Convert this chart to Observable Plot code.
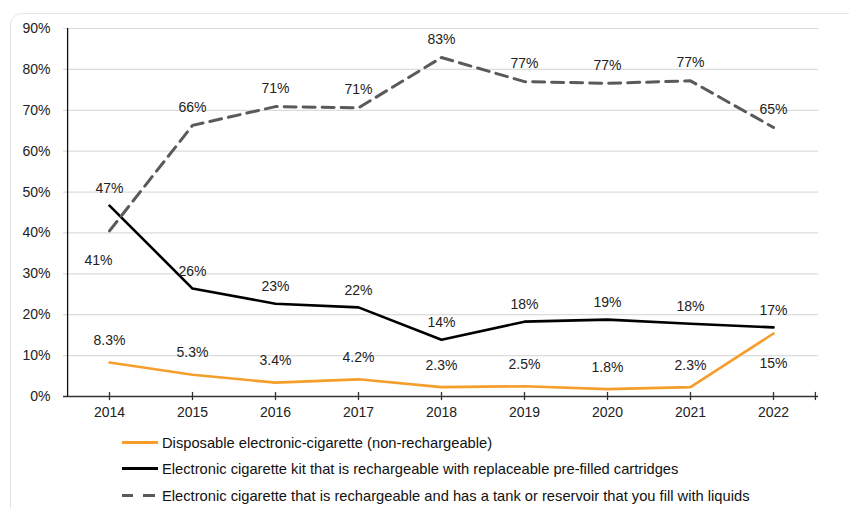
<!DOCTYPE html>
<html>
<head>
<meta charset="utf-8">
<script src="https://cdn.jsdelivr.net/npm/d3@7"></script>
<script src="https://cdn.jsdelivr.net/npm/@observablehq/plot@0.6"></script>
<style>
  html, body { margin: 0; padding: 0; background: #fff; }
  #wrap { position: relative; width: 849px; height: 508px; overflow: hidden; font-family: "Liberation Sans", Arial, sans-serif; }
  #box { position: absolute; left: 10px; top: 13px; width: 880px; height: 520px; border: 1.5px solid #e3e3e3; border-radius: 12px; box-sizing: border-box; }
  #chart { position: absolute; left: 0; top: 0; }
  #legend { position: absolute; left: 122px; top: 429px; font-family: "Liberation Sans", Arial, sans-serif; font-size: 15px; color: #111; }
  .item { display: flex; align-items: center; height: 26.5px; white-space: nowrap; }
  .sw { width: 36px; height: 0; margin-right: 4px; flex: none; }
  .lt { display: inline-block; transform: scaleX(0.98); transform-origin: left center; }
</style>
</head>
<body>
<div id="wrap">
  <div id="box"></div>
  <div id="chart"></div>
  <div id="legend"></div>
</div>
<script>
const years = ["2014","2015","2016","2017","2018","2019","2020","2021","2022"];
const disposable = [8.3, 5.3, 3.4, 4.2, 2.3, 2.5, 1.8, 2.3, 15.4];
const disposableLabels = ["8.3%","5.3%","3.4%","4.2%","2.3%","2.5%","1.8%","2.3%","15%"];
const cartridge = [46.7, 26.4, 22.7, 21.8, 13.9, 18.3, 18.8, 17.8, 16.9];
const cartridgeLabels = ["47%","26%","23%","22%","14%","18%","19%","18%","17%"];
const tank = [40.5, 66.3, 70.9, 70.6, 82.9, 77.0, 76.6, 77.2, 65.8];
const tankLabels = ["41%","66%","71%","71%","83%","77%","77%","77%","65%"];
const yTicks = [0, 10, 20, 30, 40, 50, 60, 70, 80, 90];
const seriesNames = [
  "Disposable electronic-cigarette (non-rechargeable)",
  "Electronic cigarette kit that is rechargeable with replaceable pre-filled cartridges",
  "Electronic cigarette that is rechargeable and has a tank or reservoir that you fill with liquids"
];

const mk = (vals, labs) => years.map((y, i) => ({year: y, v: vals[i], label: labs[i], i}));
const dDisp = mk(disposable, disposableLabels);
const dCart = mk(cartridge, cartridgeLabels);
const dTank = mk(tank, tankLabels);

const orange = "#f59e2c";
const gray = "#5a5a5a";
const txt = {fontSize: 14, fill: "#222", fontFamily: "Liberation Sans, Arial, sans-serif"};

const chart = Plot.plot({
  width: 849,
  height: 430,
  marginLeft: 63,
  marginRight: 31,
  marginTop: 28,
  marginBottom: 34,
  style: {fontFamily: "Liberation Sans, Arial, sans-serif", fontSize: "14px", color: "#222", background: "transparent"},
  x: {type: "point", domain: years, padding: 0.5, label: null},
  y: {domain: [0, 90], label: null},
  marks: [
    Plot.ruleY(yTicks.slice(1), {stroke: "#dcdcdc", strokeWidth: 1.2}),
    Plot.axisY({ticks: yTicks, tickSize: 0, tickPadding: 13, tickFormat: d => d + "%", fontSize: 14, label: null}),
    Plot.axisX({tickSize: 0, tickPadding: 11, fontSize: 14, label: null}),
    Plot.ruleX([years[0]], {x: d => d, y1: 0, y2: 90, dx: -41.9, stroke: "#111", strokeWidth: 1.3}),
    Plot.ruleY([0], {stroke: "#333", strokeWidth: 1.3}),
    Plot.ruleX(years, {x: d => d, y1: -1, y2: 1, stroke: "#333", strokeWidth: 1.3}),
    Plot.ruleX([years[years.length - 1]], {x: d => d, y1: -1, y2: 1, dx: 41.9, stroke: "#333", strokeWidth: 1.3}),
    Plot.line(dDisp, {x: "year", y: "v", stroke: orange, strokeWidth: 2.6}),
    Plot.line(dCart, {x: "year", y: "v", stroke: "#000", strokeWidth: 2.6}),
    Plot.line(dTank, {x: "year", y: "v", stroke: gray, strokeWidth: 3, strokeDasharray: "12,7"}),
    Plot.text(dTank.filter(d => d.i > 0), {x: "year", y: "v", text: "label", dy: -18, ...txt}),
    Plot.text(dTank.filter(d => d.i === 0), {x: "year", y: "v", text: "label", dy: 30, dx: -11, ...txt}),
    Plot.text(dCart, {x: "year", y: "v", text: "label", dy: -17, ...txt}),
    Plot.text(dDisp.filter(d => d.i < 8), {x: "year", y: "v", text: "label", dy: -22, ...txt}),
    Plot.text(dDisp.filter(d => d.i === 8), {x: "year", y: "v", text: "label", dy: 30, ...txt})
  ]
});
document.getElementById("chart").appendChild(chart);

const legend = document.getElementById("legend");
const styles = [
  `border-top: 3px solid ${orange};`,
  `border-top: 3px solid #000;`,
  ""
];
seriesNames.forEach((name, k) => {
  const row = document.createElement("div");
  row.className = "item";
  const sw = document.createElement("span");
  sw.className = "sw";
  if (k === 2) {
    sw.style.height = "3px";
    sw.style.background = `linear-gradient(to right, ${gray} 0 11px, transparent 11px 21px, ${gray} 21px 33px, transparent 33px)`;
  } else {
    sw.setAttribute("style", styles[k]);
  }
  const t = document.createElement("span");
  t.className = "lt";
  t.textContent = name;
  row.appendChild(sw);
  row.appendChild(t);
  legend.appendChild(row);
});
</script>
</body>
</html>
